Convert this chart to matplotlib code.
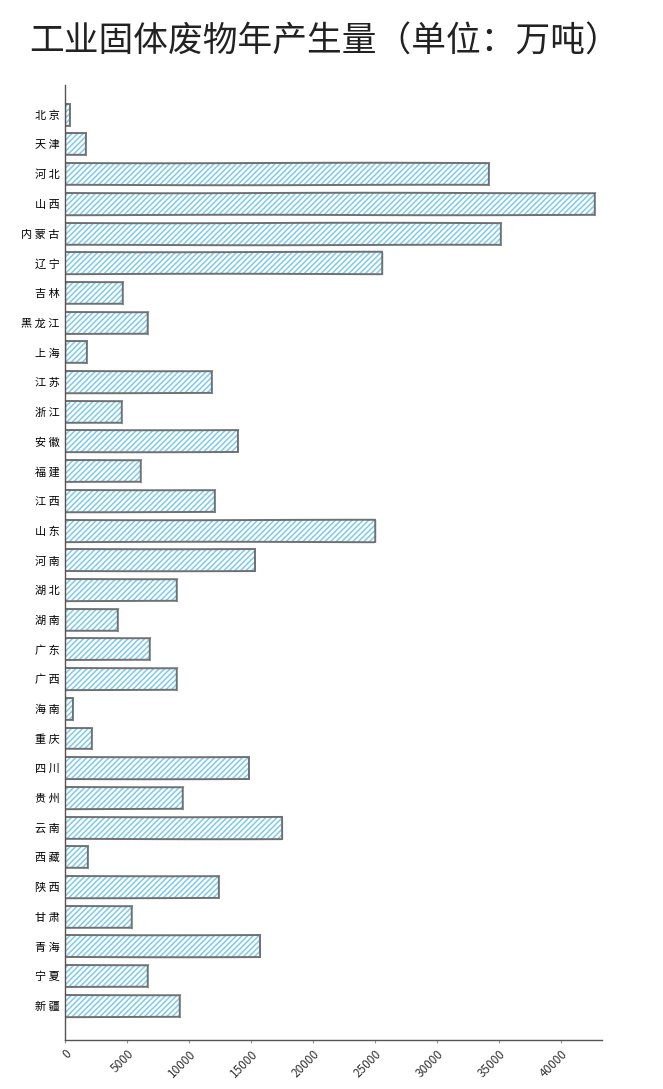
import numpy as np
import matplotlib.pyplot as plt

plt.rcParams['font.family'] = ['Noto Sans CJK SC', 'DejaVu Sans']
plt.rcParams['hatch.linewidth'] = 1.1

# -------------------------
# Data (万吨)
# -------------------------
provinces = ["北京", "天津", "河北", "山西", "内蒙古", "辽宁", "吉林", "黑龙江",
             "上海", "江苏", "浙江", "安徽", "福建", "江西", "山东", "河南",
             "湖北", "湖南", "广东", "广西", "海南", "重庆", "四川", "贵州",
             "云南", "西藏", "陕西", "甘肃", "青海", "宁夏", "新疆"]
values = [400, 1670, 34190, 42740, 35160, 25560, 4650, 6720,
          1750, 11830, 4570, 13980, 6100, 12100, 25000, 15320,
          9000, 4250, 6850, 9000, 670, 2200, 14870, 9490,
          17470, 1880, 12420, 5380, 15730, 6720, 9270]
xticks = [0, 5000, 10000, 15000, 20000, 25000, 30000, 35000, 40000]

fill_color = "#7ccbea"
edge_color = "#707070"

fig = plt.figure(figsize=(6.63, 10.89), dpi=100)
ax = fig.add_axes([65 / 663, 1 - 1040 / 1089, 537 / 663, 955 / 1089])

y = np.arange(len(provinces))

# hatched fill
ax.barh(y, values, height=0.74, color="none", edgecolor=fill_color,
        hatch="//////", linewidth=0)
# rough outline
outline = ax.barh(y, values, height=0.74, color="none", edgecolor=edge_color,
                  linewidth=1.4)
for b in outline:
    b.set_sketch_params(scale=0.25, length=400, randomness=1)

ax.set_ylim(len(provinces) - 1 + 1.15, -1.0)
ax.set_xlim(0, 43300)
ax.set_yticks(y)
ax.set_yticklabels([" ".join(p) for p in provinces], fontsize=8)
ax.set_xticks(xticks)
ax.set_xticklabels([str(v) for v in xticks], rotation=45, ha="right",
                   rotation_mode="anchor", fontsize=8.5, color="#333333")
ax.tick_params(axis="y", length=0, pad=4)
ax.tick_params(axis="x", length=2, color="#999999")

for s in ["top", "right"]:
    ax.spines[s].set_visible(False)
for s in ["left", "bottom"]:
    ax.spines[s].set_color("#555555")
    ax.spines[s].set_linewidth(1.0)

fig.text(0.49, 1 - 42 / 1089, "工业固体废物年产生量（单位：万吨）",
         ha="center", va="center", fontsize=25, fontweight="medium",
         color="#222222")

plt.savefig("out.png", dpi=100)
plt.close()
